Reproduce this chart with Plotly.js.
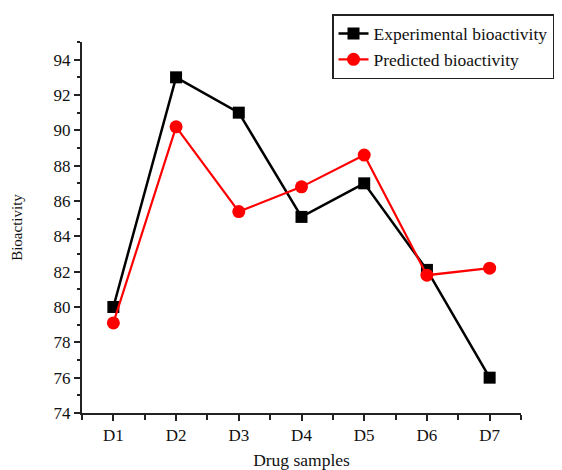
<!DOCTYPE html>
<html>
<head>
<meta charset="utf-8">
<script src="https://cdn.plot.ly/plotly-3.0.1.min.js"></script>
<style>html,body{margin:0;padding:0;background:#fff;}#chart{width:562px;height:470px;}</style>
</head>
<body>
<div id="chart"></div>
<script>
const categories = ["D1", "D2", "D3", "D4", "D5", "D6", "D7"];
const experimental = [80.0, 93.0, 91.0, 85.1, 87.0, 82.1, 76.0];
const predicted = [79.1, 90.2, 85.4, 86.8, 88.6, 81.8, 82.2];
const yTickVals = [74, 76, 78, 80, 82, 84, 86, 88, 90, 92, 94];

const xIdx = categories.map((c, i) => i);
const fontFam = "Liberation Serif, Times New Roman, serif";

const traces = [
  {
    x: xIdx, y: experimental, name: "Experimental bioactivity",
    type: "scatter", mode: "lines+markers",
    line: {color: "#000000", width: 2.5},
    marker: {symbol: "square", size: 12, color: "#000000"}
  },
  {
    x: xIdx, y: predicted, name: "Predicted bioactivity",
    type: "scatter", mode: "lines+markers",
    line: {color: "#ff0000", width: 2.2},
    marker: {symbol: "circle", size: 13, color: "#ff0000"}
  }
];

const layout = {
  width: 562, height: 470,
  margin: {l: 82, r: 41, t: 42, b: 57, autoexpand: false},
  paper_bgcolor: "#ffffff", plot_bgcolor: "#ffffff",
  font: {family: fontFam, size: 16, color: "#111111"},
  showlegend: true,
  legend: {
    x: 0.5695, y: 1.075, xanchor: "left", yanchor: "top",
    bgcolor: "#ffffff", bordercolor: "#222222", borderwidth: 1.5,
    font: {family: fontFam, size: 17.5, color: "#111111"},
    tracegroupgap: 0, itemwidth: 30
  },
  xaxis: {
    range: [-0.5, 6.5],
    tickmode: "array", tickvals: xIdx, ticktext: categories,
    showgrid: false, zeroline: false, automargin: false,
    showline: true, linecolor: "#222222", linewidth: 2,
    ticks: "outside", ticklen: 6, tickwidth: 2, tickcolor: "#222222",
    minor: {dtick: 0.5, tick0: 0, ticks: "outside", ticklen: 5, tickwidth: 2, tickcolor: "#222222", showgrid: false},
    tickfont: {family: fontFam, size: 17, color: "#111111"},
    title: {text: "Drug samples", font: {family: fontFam, size: 17.5, color: "#111111"}, standoff: 11}
  },
  yaxis: {
    range: [74, 95],
    tickmode: "array", tickvals: yTickVals,
    showgrid: false, zeroline: false, automargin: false,
    showline: true, linecolor: "#222222", linewidth: 2,
    ticks: "outside", ticklen: 6, tickwidth: 2, tickcolor: "#222222",
    minor: {dtick: 1, tick0: 74, ticks: "outside", ticklen: 3, tickwidth: 2, tickcolor: "#222222", showgrid: false},
    tickfont: {family: fontFam, size: 17, color: "#111111"},
    title: {text: "Bioactivity", font: {family: fontFam, size: 15, color: "#111111"}, standoff: 27}
  }
};

Plotly.newPlot("chart", traces, layout, {displayModeBar: false, staticPlot: true});
</script>
</body>
</html>
